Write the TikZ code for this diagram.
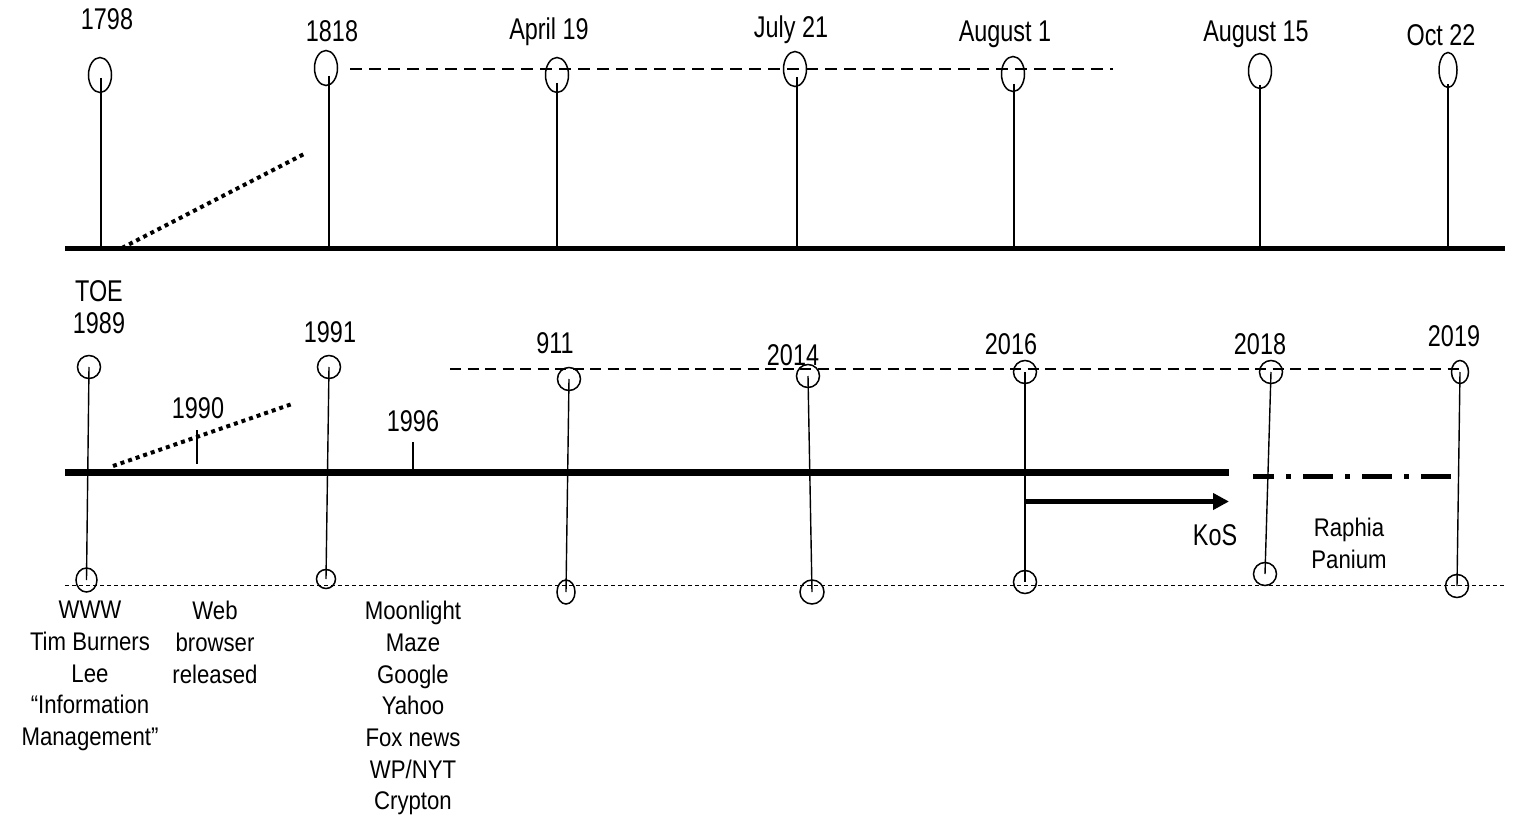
\documentclass[tikz,border=0pt]{standalone}
\usepackage{fontspec}
\setmainfont{Liberation Sans}[FakeStretch=0.87]
\newfontfamily\lblfont{Liberation Sans}[FakeStretch=0.78]
\usetikzlibrary{shapes.geometric,arrows.meta}
\begin{document}
\begin{tikzpicture}[x=1pt,y=-1pt,
  lbl/.style={font=\lblfont\fontsize{30}{34}\selectfont, anchor=base, inner sep=0pt},
  txtblock/.style={font=\fontsize{25.5}{31.7}\selectfont, anchor=north, inner sep=0pt, align=center},
  pinT/.style={draw, ellipse, line width=1.5pt, inner sep=0pt, minimum width=23pt, minimum height=35pt},
  ringL/.style={draw, ellipse, line width=1.5pt, inner sep=0pt, minimum width=23pt, minimum height=23pt},
  stemT/.style={line width=1.8pt},
  stemL/.style={line width=1.4pt},
  tickL/.style={line width=1.2pt},
  axisT/.style={line width=5pt},
  axisL/.style={line width=7pt},
  fatdots/.style={line width=4pt, dash pattern=on 4pt off 4pt},
  dashT/.style={line width=1.5pt, dash pattern=on 12pt off 7pt},
  dashL/.style={line width=1.3pt, dash pattern=on 11pt off 6.5pt},
  dotB/.style={line width=1pt, dash pattern=on 4pt off 3pt},
  dashdotL/.style={line width=5pt, dash pattern=on 30pt off 12pt on 5pt off 12pt, dash phase=9pt},
  kosarrow/.style={line width=4.5pt, -{Triangle[length=16pt,width=16pt]}}
]
\useasboundingbox (0,0) rectangle (1516,816);

% ---------- top timeline ----------
\coordinate (ta0) at (65,248);
\coordinate (ta1) at (1505,248);
\draw[axisT] (ta0) -- (ta1);

\coordinate (td0) at (122,248);
\coordinate (td1) at (306,153);
\draw[fatdots] (td0) -- (td1);

\coordinate (tq0) at (350,69);
\coordinate (tq1) at (1113,69);
\draw[dashT] (tq0) -- (tq1);

\node[pinT] (p1798) at (100,75) {};
\node[pinT] (p1818) at (326,68) {};
\node[pinT] (p0419) at (557,75) {};
\node[pinT] (p0721) at (795,69) {};
\node[pinT] (p0801) at (1013,74) {};
\node[pinT] (p0815) at (1260,71) {};
\node[pinT, minimum width=18pt] (p1022) at (1448,70) {};

\coordinate (a1798) at (101,248);
\coordinate (a1818) at (329,248);
\coordinate (a0419) at (557,248);
\coordinate (a0721) at (797,248);
\coordinate (a0801) at (1014,248);
\coordinate (a0815) at (1260,248);
\coordinate (a1022) at (1448,248);

\draw[stemT] ([xshift=1pt,yshift=-3pt]p1798.center) -- (a1798);
\draw[stemT] ([xshift=3pt,yshift=-8pt]p1818.center) -- (a1818);
\draw[stemT] ([yshift=-8pt]p0419.center) -- (a0419);
\draw[stemT] ([xshift=2pt,yshift=-8pt]p0721.center) -- (a0721);
\draw[stemT] ([xshift=1pt,yshift=-10pt]p0801.center) -- (a0801);
\draw[stemT] ([yshift=-14pt]p0815.center) -- (a0815);
\draw[stemT] ([yshift=-14pt]p1022.center) -- (a1022);

\node[lbl] (t1798) at (107,30) {1798};
\node[lbl] (t1818) at (332,42) {1818};
\node[lbl] (t0419) at (549,40) {April 19};
\node[lbl] (t0721) at (791,38) {July 21};
\node[lbl] (t0801) at (1005,42) {August 1};
\node[lbl] (t0815) at (1256,42) {August 15};
\node[lbl] (t1022) at (1441,46) {Oct 22};

% ---------- lower timeline ----------
\coordinate (ba0) at (65,472);
\coordinate (ba1) at (1229,472);
\draw[axisL] (ba0) -- (ba1);

\coordinate (bd0) at (1253,476.5);
\coordinate (bd1) at (1451,476.5);
\draw[dashdotL] (bd0) -- (bd1);

\coordinate (bs0) at (113,466);
\coordinate (bs1) at (292,404);
\draw[fatdots] (bs0) -- (bs1);

\coordinate (bq0) at (450,369);
\coordinate (bq1) at (1460,369);
\draw[dashL] (bq0) -- (bq1);

\coordinate (bz0) at (65,585);
\coordinate (bz1) at (1505,585);
\draw[dotB] (bz0) -- (bz1);

\coordinate (k1990a) at (197,430);
\coordinate (k1990b) at (197,464);
\draw[tickL] (k1990a) -- (k1990b);
\coordinate (k1996a) at (413,442);
\coordinate (k1996b) at (413,473);
\draw[tickL] (k1996a) -- (k1996b);

\node[ringL] (r1989) at (89,367) {};
\node[ringL] (r1991) at (329,367) {};
\node[ringL] (r911) at (569,379) {};
\node[ringL] (r2014) at (808,376) {};
\node[ringL] (r2016) at (1025,372) {};
\node[ringL] (r2018) at (1271,372) {};
\node[ringL, minimum width=17pt] (r2019) at (1460,372) {};

\node[ringL, minimum width=21pt, minimum height=24pt] (q1989) at (86.5,580) {};
\node[ringL, minimum width=19pt, minimum height=19pt] (q1991) at (326,579) {};
\node[ringL, minimum width=18pt, minimum height=24pt] (q911) at (566,592) {};
\node[ringL, minimum width=24pt, minimum height=24pt] (q2014) at (812,592) {};
\node[ringL] (q2016) at (1025,582) {};
\node[ringL] (q2018) at (1265,574) {};
\node[ringL] (q2019) at (1457,586) {};

\draw[stemL] (r1989.center) -- (q1989.center);
\draw[stemL] (r1991.center) -- (q1991.center);
\draw[stemL] (r911.center) -- (q911.center);
\draw[stemL] (r2014.center) -- (q2014.center);
\draw[stemL] (r2016.center) -- (q2016.center);
\draw[stemL] (r2018.center) -- (q2018.center);
\draw[stemL] (r2019.center) -- (q2019.center);

\coordinate (k0) at (1025,501.5);
\coordinate (k1) at (1229,501.5);
\draw[kosarrow] (k0) -- (k1);

\node[lbl] (lTOE) at (99,301) {TOE};
\node[lbl] (l1989) at (99,333) {1989};
\node[lbl] (l1991) at (330,342) {1991};
\node[lbl] (l1990) at (198,418) {1990};
\node[lbl] (l1996) at (413,431) {1996};
\node[lbl] (l911) at (555,353) {911};
\node[lbl] (l2014) at (793,365) {2014};
\node[lbl] (l2016) at (1011,354) {2016};
\node[lbl] (l2018) at (1260,354) {2018};
\node[lbl] (l2019) at (1454,346) {2019};
\node[lbl] (lKoS) at (1215,545) {KoS};
\node[txtblock] (lRaphia) at (1349,518) {Raphia\\Panium};

\node[txtblock] (bWWW) at (90,601) {WWW\\Tim Burners\\Lee\\“Information\\Management”};
\node[txtblock] (bWeb) at (215,601) {Web\\browser\\released};
\node[txtblock] (bMoon) at (413,601) {Moonlight\\Maze\\Google\\Yahoo\\Fox news\\WP/NYT\\Crypton};
\end{tikzpicture}
\end{document}
